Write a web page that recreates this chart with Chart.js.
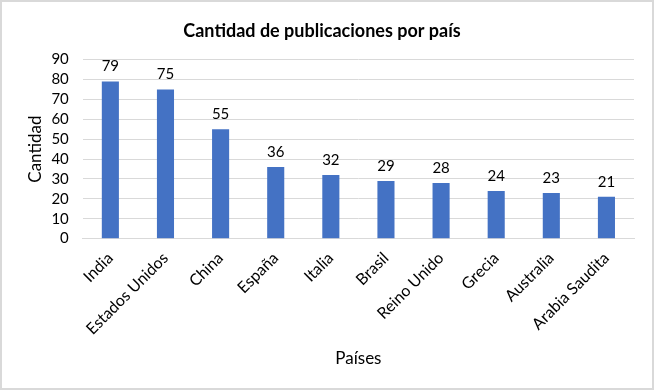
<!DOCTYPE html>
<html>
<head>
<meta charset="utf-8">
<script src="https://cdn.jsdelivr.net/npm/chart.js@4/dist/chart.umd.min.js"></script>
<style>
    html, body { margin: 0; padding: 0; background: #fff; }
    #wrap {
        width: 650px; height: 386px;
        border: 2px solid #d9d9d9;
        background: #fff;
    }
</style>
</head>
<body>
<div id="wrap"><canvas id="chart" width="650" height="386"></canvas></div>
<script>
const paises = ['India', 'Estados Unidos', 'China', 'España', 'Italia', 'Brasil', 'Reino Unido', 'Grecia', 'Australia', 'Arabia Saudita'];
const cantidad = [79, 75, 55, 36, 32, 29, 28, 24, 23, 21];
const yTicks = [0, 10, 20, 30, 40, 50, 60, 70, 80, 90];

const fontFamily = 'Lato, "Open Sans", sans-serif';

// dibuja el valor encima de cada barra
const valueLabels = {
    id: 'valueLabels',
    afterDatasetsDraw(chart) {
        const ctx = chart.ctx;
        const meta = chart.getDatasetMeta(0);
        ctx.save();
        ctx.font = '15px ' + fontFamily;
        ctx.fillStyle = '#000';
        ctx.textAlign = 'center';
        ctx.textBaseline = 'alphabetic';
        meta.data.forEach((bar, i) => {
            ctx.fillText(cantidad[i], bar.x, bar.y - 10);
        });
        ctx.restore();
    }
};

new Chart(document.getElementById('chart'), {
    type: 'bar',
    data: {
        labels: paises,
        datasets: [{
            label: 'Cantidad',
            data: cantidad,
            backgroundColor: '#4472c4',
            barPercentage: 0.31,
            categoryPercentage: 1
        }]
    },
    options: {
        responsive: false,
        animation: false,
        layout: { padding: { top: 8, right: 18, left: 8, bottom: 15 } },
        plugins: {
            legend: { display: false },
            tooltip: { enabled: false },
            title: {
                display: true,
                text: 'Cantidad de publicaciones por país',
                color: '#000',
                font: { family: fontFamily, size: 18, weight: 'bold' },
                padding: { top: 10, bottom: 18 }
            }
        },
        scales: {
            x: {
                grid: { display: false },
                border: { color: '#d9d9d9' },
                ticks: {
                    color: '#000',
                    font: { family: fontFamily, size: 16 },
                    minRotation: 45,
                    maxRotation: 45,
                    autoSkip: false,
                    padding: 2
                },
                title: {
                    display: true,
                    text: 'Países',
                    color: '#000',
                    font: { family: fontFamily, size: 17 },
                    padding: { top: 8 }
                }
            },
            y: {
                min: 0,
                max: 90,
                afterBuildTicks(axis) {
                    axis.ticks = yTicks.map(v => ({ value: v }));
                },
                grid: { color: '#d9d9d9', drawTicks: false },
                border: { display: false },
                ticks: {
                    color: '#000',
                    font: { family: fontFamily, size: 15 },
                    autoSkip: false,
                    padding: 14
                },
                title: {
                    display: true,
                    text: 'Cantidad',
                    color: '#000',
                    font: { family: fontFamily, size: 17 },
                    padding: { top: 15, bottom: -8 }
                }
            }
        }
    },
    plugins: [valueLabels]
});
</script>
</body>
</html>
